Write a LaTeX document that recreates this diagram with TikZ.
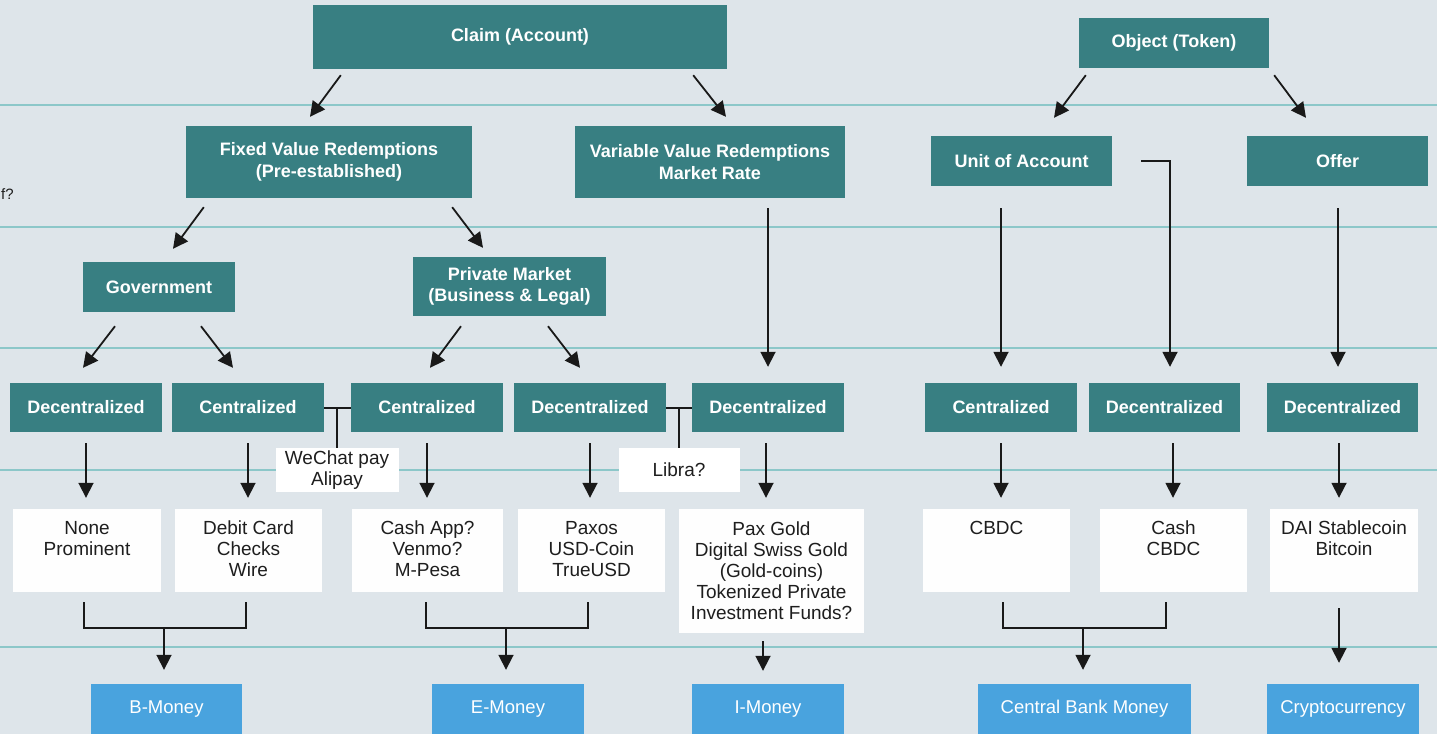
\documentclass[tikz,border=0pt]{standalone}
\usepackage{fontspec}
\setmainfont{Liberation Sans}
\usetikzlibrary{arrows.meta,calc}

\definecolor{bgcol}{HTML}{DEE5EA}
\definecolor{boxteal}{HTML}{387F82}
\definecolor{boxblue}{HTML}{49A3DE}
\definecolor{rulecol}{HTML}{8CC7C9}
\definecolor{textdark}{HTML}{1E1E1E}

\newcommand{\boxlines}[1]{\parbox[c][83pt][t]{146pt}{\centering\vspace*{12pt}#1}}

\tikzset{
    tealbox/.style = {fill = boxteal, text = white, align = center, inner sep = 0pt,
        font = \fontsize{18}{21.5}\selectfont\bfseries,
        minimum width = 152, minimum height = 49},
    whitebox/.style = {fill = white!96!bgcol, text = textdark, inner sep = 0pt,
        font = \fontsize{19}{21}\selectfont, minimum height = 83},
    notebox/.style = {fill = white, text = textdark, align = center, inner sep = 0pt,
        font = \fontsize{19}{21}\selectfont, minimum height = 44},
    moneybox/.style = {fill = boxblue, text = white, inner sep = 0pt,
        font = \fontsize{18.5}{21}\selectfont,
        minimum width = 152, minimum height = 50},
    rule/.style = {draw = rulecol, line width = 1.6pt},
    link/.style = {draw = black!90, line width = 1.8pt},
    arr/.style = {link, -{Triangle[length = 15pt, width = 15pt]}}
}

\begin{document}
\begin{tikzpicture}[x = 1pt, y = -1pt]
        \useasboundingbox (0, 0) rectangle (1437, 734);
        \fill [bgcol] (0, 0) rectangle (1437, 734);

        % Linien
        \draw [rule] (0, 105) -- (1437, 105);
        \draw [rule] (0, 227) -- (1437, 227);
        \draw [rule] (0, 348) -- (1437, 348);
        \draw [rule] (0, 470) -- (1437, 470);
        \draw [rule] (0, 647) -- (1437, 647);

        \node [font = \fontsize{15}{18}\selectfont, text = textdark, anchor = west, inner sep = 0pt]
            (cutnote) at (1, 194) {f?};

        % oben
        \node [tealbox, minimum width = 414, minimum height = 64] (claim) at (520, 37) {Claim (Account)};
        \node [tealbox, minimum width = 190, minimum height = 50] (object) at (1174, 43) {Object (Token)};

        % zweite Ebene
        \node [tealbox, minimum width = 286, minimum height = 72] (fixed) at (329, 162)
            {Fixed Value Redemptions\\(Pre-established)};
        \node [tealbox, minimum width = 270, minimum height = 72] (variable) at (710, 162)
            {Variable Value Redemptions\\Market Rate};
        \node [tealbox, minimum width = 181, minimum height = 50] (unit) at (1021.5, 161) {Unit of Account};
        \node [tealbox, minimum width = 181, minimum height = 50] (offer) at (1337.5, 161) {Offer};

        % dritte Ebene
        \node [tealbox, minimum height = 50] (gov) at (159, 287) {Government};
        \node [tealbox, minimum width = 193, minimum height = 59] (private) at (509.5, 286.5)
            {Private Market\\(Business \& Legal)};

        % vierte Ebene
        \node [tealbox] (dec1) at (86, 407.5) {Decentralized};
        \node [tealbox] (cen1) at (248, 407.5) {Centralized};
        \node [tealbox] (cen2) at (427, 407.5) {Centralized};
        \node [tealbox] (dec2) at (590, 407.5) {Decentralized};
        \node [tealbox] (dec3) at (768, 407.5) {Decentralized};
        \node [tealbox] (cen3) at (1001, 407.5) {Centralized};
        \node [tealbox, minimum width = 151] (dec4) at (1164.5, 407.5) {Decentralized};
        \node [tealbox, minimum width = 151] (dec5) at (1342.5, 407.5) {Decentralized};

        % Hinweise
        \node [notebox, minimum width = 123] (wechat) at (337, 470) {WeChat pay\\Alipay};
        \node [notebox, minimum width = 121] (libra) at (679, 470) {Libra?};

        % Beispiele
        \node [whitebox, minimum width = 148] (none) at (87, 550.5) {\boxlines{None\\Prominent}};
        \node [whitebox, minimum width = 147] (debit) at (248.5, 550.5) {\boxlines{Debit Card\\Checks\\Wire}};
        \node [whitebox, minimum width = 151] (cashapp) at (427.5, 550.5) {\boxlines{Cash App?\\Venmo?\\M-Pesa}};
        \node [whitebox, minimum width = 147] (paxos) at (591.5, 550.5) {\boxlines{Paxos\\USD-Coin\\TrueUSD}};
        \node [whitebox, align = center, minimum width = 185, minimum height = 124] (paxgold) at (771.5, 571)
            {Pax Gold\\Digital Swiss Gold\\(Gold-coins)\\Tokenized Private\\Investment Funds?};
        \node [whitebox, minimum width = 147] (cbdc) at (996.5, 550.5) {\boxlines{CBDC}};
        \node [whitebox, minimum width = 147] (cash) at (1173.5, 550.5) {\boxlines{Cash\\CBDC}};
        \node [whitebox, minimum width = 148] (dai) at (1344, 550.5) {\boxlines{DAI Stablecoin\\Bitcoin}};

        % unten
        \node [moneybox, minimum width = 151] (bmoney) at (166.5, 709) {B-Money};
        \node [moneybox] (emoney) at (508, 709) {E-Money};
        \node [moneybox] (imoney) at (768, 709) {I-Money};
        \node [moneybox, minimum width = 213] (cbm) at (1084.5, 709) {Central Bank Money};
        \node [moneybox] (crypto) at (1343, 709) {Cryptocurrency};

        % Pfeile oben
        \draw [arr] ($(claim.south west) + (28, 6)$) -- ($(fixed.north) + (-19, -9)$);
        \draw [arr] ($(claim.south east) + (-34, 6)$) -- ($(variable.north) + (16, -9)$);
        \draw [arr] ($(object.south west) + (7, 7)$) -- ($(unit.north) + (32.5, -18)$);
        \draw [arr] ($(object.south east) + (5, 7)$) -- ($(offer.north) + (-31.5, -18)$);

        \draw [arr] ($(fixed.south west) + (18, 9)$) -- ($(gov.north) + (14, -13)$);
        \draw [arr] ($(fixed.south east) + (-20, 9)$) -- ($(private.north) + (-26.5, -9)$);
        \draw [arr] ($(gov.south) + (-44, 14)$) -- ($(dec1.north) + (-3, -15)$);
        \draw [arr] ($(gov.south) + (42, 14)$) -- ($(cen1.north) + (-15, -15)$);
        \draw [arr] ($(private.south) + (-48.5, 10)$) -- ($(cen2.north) + (3, -15)$);
        \draw [arr] ($(private.south) + (38.5, 10)$) -- ($(dec2.north) + (-10, -15)$);

        \draw [arr] ($(dec3.north |- variable.south) + (0, 10)$) -- ($(dec3.north) + (0, -16)$);
        \draw [arr] ($(cen3.north |- unit.south) + (0, 22)$) -- ($(cen3.north) + (0, -16)$);
        \draw [arr] ($(unit.east) + (29, 0)$) -| ($(dec4.north) + (5.5, -16)$);
        \draw [arr] ($(offer.south) + (0.5, 22)$) -- ($(offer.south |- dec5.north) + (0.5, -16)$);

        % Querverbindungen
        \draw [link] ($(cen1.east) + (0, 0.5)$) -- ($(cen2.west) + (0, 0.5)$);
        \draw [link] ($(cen1.east -| wechat.north) + (0, 0.5)$) -- (wechat.north);
        \draw [link] ($(dec2.east) + (0, 0.5)$) -- ($(dec3.west) + (0, 0.5)$);
        \draw [link] ($(dec2.east -| libra.north) + (0, 0.5)$) -- (libra.north);

        % Pfeile Mitte
        \draw [arr] ($(dec1.south) + (0, 11)$) -- ($(dec1.south |- none.north) + (0, -11)$);
        \draw [arr] ($(cen1.south) + (0, 11)$) -- ($(cen1.south |- debit.north) + (0, -11)$);
        \draw [arr] ($(cen2.south) + (0, 11)$) -- ($(cen2.south |- cashapp.north) + (0, -11)$);
        \draw [arr] ($(dec2.south) + (0, 11)$) -- ($(dec2.south |- paxos.north) + (0, -11)$);
        \draw [arr] ($(dec3.south) + (-2, 11)$) -- ($(dec3.south |- paxgold.north) + (-2, -11)$);
        \draw [arr] ($(cen3.south) + (0, 11)$) -- ($(cen3.south |- cbdc.north) + (0, -11)$);
        \draw [arr] ($(dec4.south) + (8.5, 11)$) -- ($(dec4.south |- cash.north) + (8.5, -11)$);
        \draw [arr] ($(dec5.south) + (-3.5, 11)$) -- ($(dec5.south |- dai.north) + (-3.5, -11)$);

        % Klammern unten
        \draw [link] ($(none.south) + (-3, 10)$) -- ++(0, 26) coordinate (bjoin) -| ($(debit.south) + (-2.5, 10)$);
        \draw [arr] ($(bjoin -| bmoney.north) + (-2.5, 0)$) -- ($(bmoney.north) + (-2.5, -14)$);
        \draw [link] ($(cashapp.south) + (-1.5, 10)$) -- ++(0, 26) coordinate (ejoin) -| ($(paxos.south) + (-3.5, 10)$);
        \draw [arr] ($(ejoin -| emoney.north) + (-2, 0)$) -- ($(emoney.north) + (-2, -14)$);
        \draw [link] ($(cbdc.south) + (6.5, 10)$) -- ++(0, 26) coordinate (cjoin) -| ($(cash.south) + (-7.5, 10)$);
        \draw [arr] ($(cjoin -| cbm.north) + (-1.5, 0)$) -- ($(cbm.north) + (-1.5, -14)$);

        \draw [arr] ($(paxgold.south -| imoney.north) + (-5, 8)$) -- ($(imoney.north) + (-5, -13)$);
        \draw [arr] ($(dai.south) + (-5, 16)$) -- ($(dai.south |- crypto.north) + (-5, -21)$);
    \end{tikzpicture}
\end{document}
